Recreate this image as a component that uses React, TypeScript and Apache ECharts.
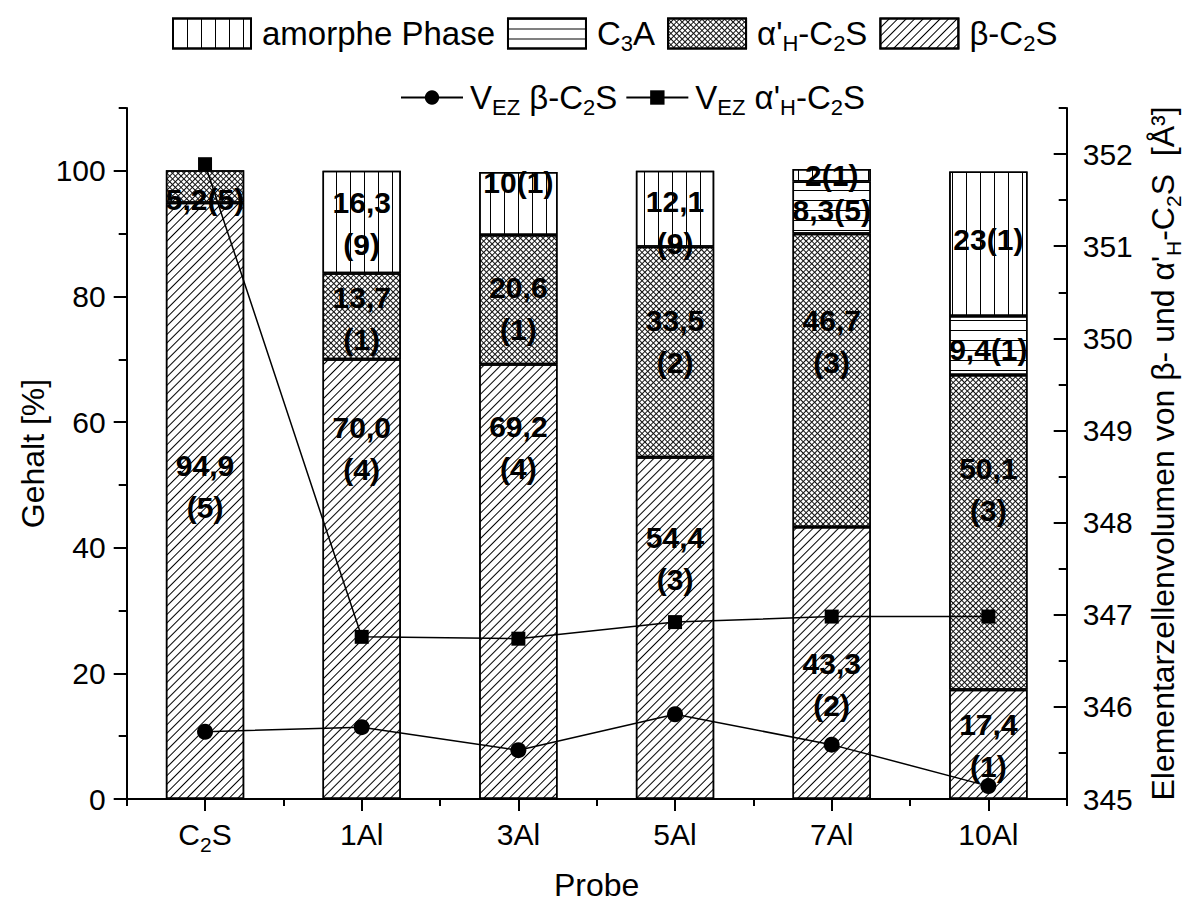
import React, { useEffect, useRef } from 'react';
import * as echarts from 'echarts';

// Samples (x axis)
const samples = ['C2S', '1Al', '3Al', '5Al', '7Al', '10Al'];

// Phase contents [%] and the uncertainty of the last digit
const betaC2S = [94.9, 70.0, 69.2, 54.4, 43.3, 17.4];
const betaErr = ['5', '4', '4', '3', '2', '1'];
const betaDecimals = [1, 1, 1, 1, 1, 1];

const alphaC2S = [5.2, 13.7, 20.6, 33.5, 46.7, 50.1];
const alphaErr = ['5', '1', '1', '2', '3', '3'];
const alphaDecimals = [1, 1, 1, 1, 1, 1];

const c3a = [null, null, null, null, 8.3, 9.4];
const c3aErr = ['', '', '', '', '5', '1'];
const c3aDecimals = [1, 1, 1, 1, 1, 1];

const amorph = [null, 16.3, 10, 12.1, 2, 23];
const amorphErr = ['', '9', '1', '9', '1', '1'];
const amorphDecimals = [0, 1, 0, 1, 0, 0];

// Unit cell volumes [Å³]
const vBeta = [345.73, 345.78, 345.53, 345.92, 345.59, 345.14];
const vAlpha = [351.89, 346.76, 346.74, 346.92, 346.98, 346.98];

// Axis ranges and tick steps
const leftMin = 0;
const leftMax = 110;
const leftLabelMax = 100;
const leftMajor = 20;
const leftMinor = 10;
const rightMin = 345;
const rightMax = 352.5;
const rightLabelMax = 352;
const rightMajor = 1;
const rightMinor = 0.5;

// Label placement inside the bar segments (line break, vertical shift in px)
const betaWrap = [true, true, true, true, true, true];
const betaShift = [-14, -131, -134, -70, 22, 1];
const alphaWrap = [false, true, true, true, true, true];
const alphaShift = [13, 2, 9, -11, -39, -43];
const c3aWrap = [false, false, false, false, false, false];
const c3aShift = [0, 0, 0, 0, 3, 4];
const amorphWrap = [false, true, false, true, false, false];
const amorphShift = [0, 1, -21, 14, 0, -4];

const FONT = '"Liberation Sans", Arial, Helvetica, sans-serif';
const BLACK = '#000';

const SUB = { fontSize: 21, padding: [20, 0, 0, 0], fontFamily: FONT, color: BLACK };

const richName: Record<string, string> = {
  'amorphe Phase': 'amorphe Phase',
  C3A: 'C{s|3}A',
  "α'H-C2S": "α'{s|H}-C{s|2}S",
  'β-C2S': 'β-C{s|2}S',
  'VEZ β-C2S': 'V{s|EZ} β-C{s|2}S',
  "VEZ α'H-C2S": "V{s|EZ} α'{s|H}-C{s|2}S",
};

function barData(
  values: (number | null)[],
  errs: string[],
  decimals: number[],
  wrap: boolean[],
  shift: number[]
) {
  return values.map((v, i) => {
    if (v == null) return '-';
    const txt = v.toFixed(decimals[i]).replace('.', ',');
    return {
      value: v,
      label: {
        offset: [0, shift[i]],
        formatter: `${txt}${wrap[i] ? '\n' : ''}(${errs[i]})`,
      },
    };
  });
}

// Hatch patterns
const decalVertical = {
  symbol: 'rect', color: BLACK, symbolSize: 1, symbolKeepAspect: false,
  dashArrayX: [1, 13], dashArrayY: [1, 0], rotation: 0,
};
const decalHorizontal = {
  symbol: 'rect', color: BLACK, symbolSize: 1, symbolKeepAspect: false,
  dashArrayX: [1, 0], dashArrayY: [1, 9], rotation: 0,
};
// cross hatch: a solid row followed by a row of short posts, turned by 45°
const decalCross = {
  symbol: 'rect', color: '#111', symbolSize: 1, symbolKeepAspect: false,
  dashArrayX: [[1, 0], [1, 3]], dashArrayY: [1, 0, 3, 0], rotation: Math.PI / 4,
};
const decalDiagonal = {
  symbol: 'rect', color: BLACK, symbolSize: 1, symbolKeepAspect: false,
  dashArrayX: [1, 0], dashArrayY: [1, 5], rotation: -Math.PI / 4,
};

export default function App() {
  const ref = useRef<HTMLDivElement>(null);

  useEffect(() => {
    if (!ref.current) return;
    const chart = echarts.init(ref.current, null, { renderer: 'svg' });

    const gLeft = 126.7;
    const gRight = 133.3;
    const gTop = 108;
    const gBottom = 110;
    const gH = 909 - gTop - gBottom;
    const leftLabelTop = gTop + (gH * (leftMax - leftLabelMax)) / (leftMax - leftMin);
    const rightLabelTop = gTop + (gH * (rightMax - rightLabelMax)) / (rightMax - rightMin);

    const axisLine = { show: true, lineStyle: { color: BLACK, width: 2 } };

    const barBase = {
      type: 'bar',
      stack: 'phase',
      xAxisIndex: 0,
      yAxisIndex: 0,
      barWidth: '50%',
      z: 2,
      label: {
        show: true,
        position: 'inside',
        color: BLACK,
        fontFamily: FONT,
        fontSize: 30,
        fontWeight: 'bold',
        lineHeight: 42,
      },
    };
    const barItem = (decal: any) => ({
      color: '#fff',
      borderColor: BLACK,
      borderWidth: 1.5,
      decal,
    });

    const legendText = {
      fontFamily: FONT, fontSize: 33, color: BLACK,
      rich: { s: { ...SUB, fontSize: 22 } },
    };

    chart.setOption({
      animation: false,
      backgroundColor: '#fff',
      textStyle: { fontFamily: FONT, color: BLACK },
      legend: [
        {
          data: ['amorphe Phase', 'C3A', "α'H-C2S", 'β-C2S'],
          left: 172,
          top: 17,
          padding: 0,
          icon: 'rect',
          itemWidth: 78,
          itemHeight: 30,
          itemGap: 12,
          selectedMode: false,
          formatter: (n: string) => richName[n] ?? n,
          textStyle: { ...legendText, padding: [0, 0, 0, 6] },
        },
        {
          data: ['VEZ β-C2S', "VEZ α'H-C2S"],
          left: 400,
          top: 81,
          padding: 0,
          itemWidth: 62,
          itemHeight: 18,
          itemGap: 8,
          selectedMode: false,
          formatter: (n: string) => richName[n] ?? n,
          textStyle: { ...legendText, padding: [0, 0, 0, 2] },
        },
      ],
      grid: [
        { left: gLeft, right: gRight, top: gTop, bottom: gBottom },
        { left: gLeft, right: gRight, top: leftLabelTop, bottom: gBottom },
        { left: gLeft, right: gRight, top: rightLabelTop, bottom: gBottom },
      ],
      xAxis: [
        {
          type: 'category',
          gridIndex: 0,
          position: 'bottom',
          data: samples,
          axisLine,
          axisTick: { show: true, alignWithLabel: true, length: 12, lineStyle: { color: BLACK, width: 2 } },
          axisLabel: {
            fontFamily: FONT, fontSize: 30, color: BLACK, margin: 15, lineHeight: 40,
            formatter: (v: string) => v.replace(/^C(\d)S$/, 'C{s|$1}S'),
            rich: { s: SUB },
          },
          name: 'Probe',
          nameLocation: 'middle',
          nameGap: 70,
          nameTextStyle: { fontFamily: FONT, fontSize: 32, color: BLACK },
          splitLine: { show: false },
        },
        {
          type: 'category',
          gridIndex: 0,
          position: 'bottom',
          data: samples,
          axisLine: { show: false },
          axisTick: { show: true, length: 7, lineStyle: { color: BLACK, width: 2 } },
          axisLabel: { show: false },
          splitLine: { show: false },
        },
        { type: 'category', gridIndex: 1, data: samples, show: false },
        { type: 'category', gridIndex: 2, data: samples, show: false },
      ],
      yAxis: [
        {
          type: 'value',
          gridIndex: 0,
          position: 'left',
          min: leftMin,
          max: leftMax,
          interval: leftMinor,
          axisLine,
          axisTick: { show: true, length: 8, lineStyle: { color: BLACK, width: 2 } },
          axisLabel: { show: false },
          splitLine: { show: false },
          name: 'Gehalt [%]',
          nameLocation: 'middle',
          nameGap: 78,
          nameTextStyle: { fontFamily: FONT, fontSize: 32, color: BLACK },
        },
        {
          type: 'value',
          gridIndex: 0,
          position: 'right',
          min: rightMin,
          max: rightMax,
          interval: rightMinor,
          axisLine,
          axisTick: { show: true, inside: true, length: 8, lineStyle: { color: BLACK, width: 2 } },
          axisLabel: { show: false },
          splitLine: { show: false },
          name: "Elementarzellenvolumen von β- und α'{s|H}-C{s|2}S  [Å³]",
          nameLocation: 'middle',
          nameGap: 76,
          nameTextStyle: { fontFamily: FONT, fontSize: 32, color: BLACK, rich: { s: SUB } },
        },
        {
          type: 'value',
          gridIndex: 1,
          position: 'left',
          min: leftMin,
          max: leftLabelMax,
          interval: leftMajor,
          axisLine: { show: false },
          axisTick: { show: true, length: 13, lineStyle: { color: BLACK, width: 2 } },
          axisLabel: { fontFamily: FONT, fontSize: 30, color: BLACK, margin: 21 },
          splitLine: { show: false },
        },
        {
          type: 'value',
          gridIndex: 2,
          position: 'right',
          min: rightMin,
          max: rightLabelMax,
          interval: rightMajor,
          axisLine: { show: false },
          axisTick: { show: true, inside: true, length: 13, lineStyle: { color: BLACK, width: 2 } },
          axisLabel: { fontFamily: FONT, fontSize: 30, color: BLACK, margin: 16 },
          splitLine: { show: false },
        },
      ],
      series: [
        {
          ...barBase,
          name: 'β-C2S',
          itemStyle: barItem(decalDiagonal),
          data: barData(betaC2S, betaErr, betaDecimals, betaWrap, betaShift),
        },
        {
          ...barBase,
          name: "α'H-C2S",
          itemStyle: barItem(decalCross),
          data: barData(alphaC2S, alphaErr, alphaDecimals, alphaWrap, alphaShift),
        },
        {
          ...barBase,
          name: 'C3A',
          itemStyle: barItem(decalHorizontal),
          data: barData(c3a, c3aErr, c3aDecimals, c3aWrap, c3aShift),
        },
        {
          ...barBase,
          name: 'amorphe Phase',
          itemStyle: barItem(decalVertical),
          data: barData(amorph, amorphErr, amorphDecimals, amorphWrap, amorphShift),
        },
        {
          type: 'line',
          name: 'VEZ β-C2S',
          xAxisIndex: 0,
          yAxisIndex: 1,
          z: 5,
          symbol: 'circle',
          symbolSize: 16,
          itemStyle: { color: BLACK },
          lineStyle: { color: BLACK, width: 1.5 },
          data: vBeta,
        },
        {
          type: 'line',
          name: "VEZ α'H-C2S",
          xAxisIndex: 0,
          yAxisIndex: 1,
          z: 5,
          symbol: 'rect',
          symbolSize: 14,
          itemStyle: { color: BLACK },
          lineStyle: { color: BLACK, width: 1.5 },
          data: vAlpha,
        },
      ],
    });

    return () => chart.dispose();
  }, []);

  return (
    <div
      ref={ref}
      style={{ position: 'fixed', left: 0, top: 0, width: 1200, height: 909, background: '#fff' }}
    />
  );
}
